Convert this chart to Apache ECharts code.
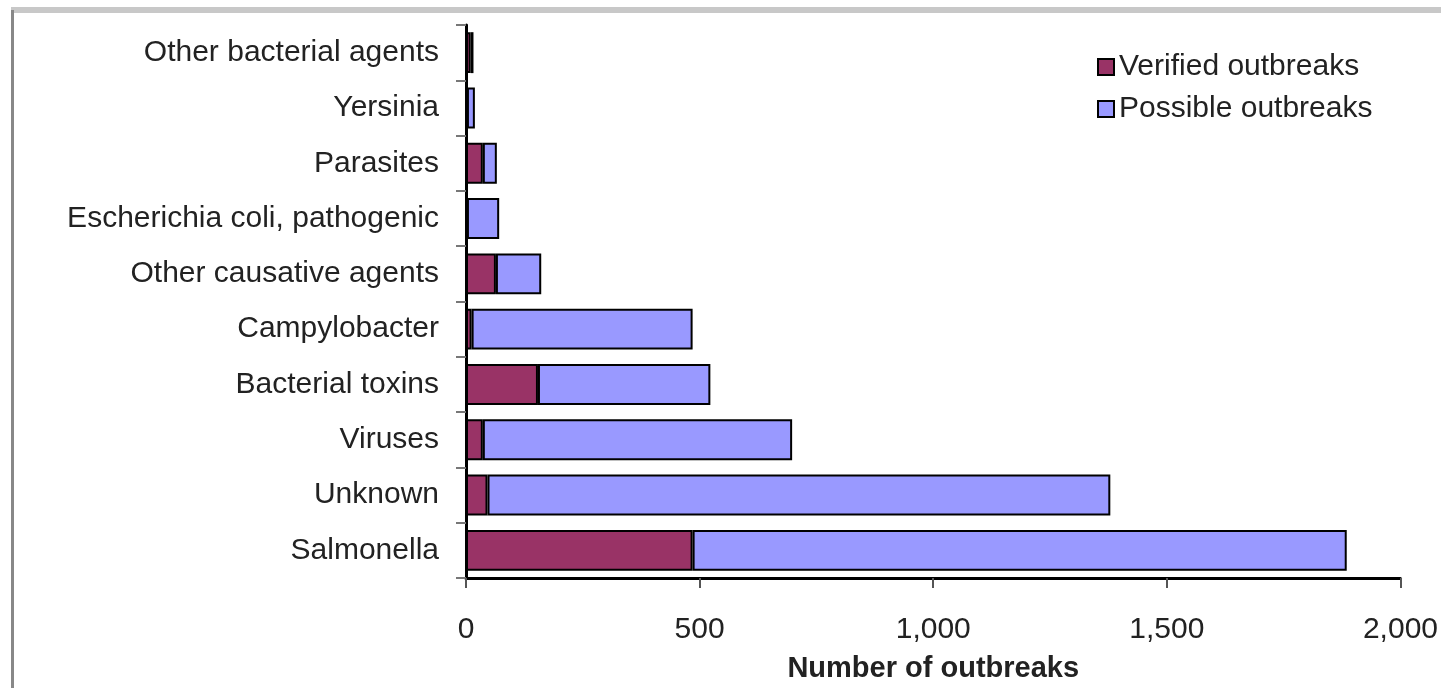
<!DOCTYPE html>
<html>
<head>
<meta charset="utf-8">
<script src="https://cdn.jsdelivr.net/npm/echarts@6/dist/echarts.min.js"></script>
<style>
  html, body { margin: 0; padding: 0; background: #fff; }
  #chart { width: 1441px; height: 688px; }
</style>
</head>
<body>
<div id="chart"></div>
<script>
// Outbreaks by causative agent (bottom to top on the category axis)
const categories = [
  'Salmonella',
  'Unknown',
  'Viruses',
  'Bacterial toxins',
  'Campylobacter',
  'Other causative agents',
  'Escherichia coli, pathogenic',
  'Parasites',
  'Yersinia',
  'Other bacterial agents'
];
const verified = [485, 46, 36, 154, 12, 64, 2, 36, 2, 10];
const possible = [1400, 1333, 662, 369, 473, 97, 69, 30, 17, 6];
const xTicks = [0, 500, 1000, 1500, 2000];

const FONT = 'Liberation Sans, Arial, sans-serif';
const chart = echarts.init(document.getElementById('chart'), null, { renderer: 'canvas' });

chart.setOption({
  backgroundColor: '#ffffff',
  animation: false,
  textStyle: { fontFamily: FONT },
  graphic: [
    { type: 'rect', shape: { x: 11, y: 7, width: 1430, height: 6 }, style: { fill: '#c8c8c8' }, silent: true },
    { type: 'rect', shape: { x: 11, y: 10, width: 3, height: 678 }, style: { fill: '#888888' }, silent: true }
  ],
  legend: {
    left: 1092,
    top: 47,
    orient: 'vertical',
    icon: 'rect',
    itemWidth: 16,
    itemHeight: 16,
    itemGap: 12,
    textStyle: { fontFamily: FONT, fontSize: 30, color: '#222' },
    itemStyle: { borderColor: '#000', borderWidth: 2 },
    data: ['Verified outbreaks', 'Possible outbreaks']
  },
  grid: { left: 466, right: 39, top: 25, bottom: 110, containLabel: false },
  xAxis: {
    type: 'value',
    min: xTicks[0],
    max: xTicks[xTicks.length - 1],
    interval: 500,
    name: 'Number of outbreaks',
    nameLocation: 'middle',
    nameGap: 76,
    nameTextStyle: { fontFamily: FONT, fontSize: 29, fontWeight: 'bold', color: '#222' },
    axisLine: { show: true, lineStyle: { color: '#000', width: 3 } },
    axisTick: { show: true, length: 10, lineStyle: { color: '#555', width: 2 } },
    axisLabel: {
      margin: 37,
      fontFamily: FONT,
      fontSize: 30,
      color: '#222',
      formatter: v => v.toLocaleString('en-US')
    },
    splitLine: { show: false }
  },
  yAxis: {
    type: 'category',
    data: categories,
    axisLine: { show: true, lineStyle: { color: '#000', width: 3 } },
    axisTick: { show: true, length: 10, lineStyle: { color: '#777', width: 2 } },
    axisLabel: { margin: 27, fontFamily: FONT, fontSize: 30, color: '#222' }
  },
  series: [
    {
      name: 'Verified outbreaks',
      type: 'bar',
      stack: 'total',
      data: verified,
      barCategoryGap: '26%',
      itemStyle: { color: '#993366', borderColor: '#000', borderWidth: 2 }
    },
    {
      name: 'Possible outbreaks',
      type: 'bar',
      stack: 'total',
      data: possible,
      barCategoryGap: '26%',
      itemStyle: { color: '#9999ff', borderColor: '#000', borderWidth: 2 }
    }
  ]
});
</script>
</body>
</html>
